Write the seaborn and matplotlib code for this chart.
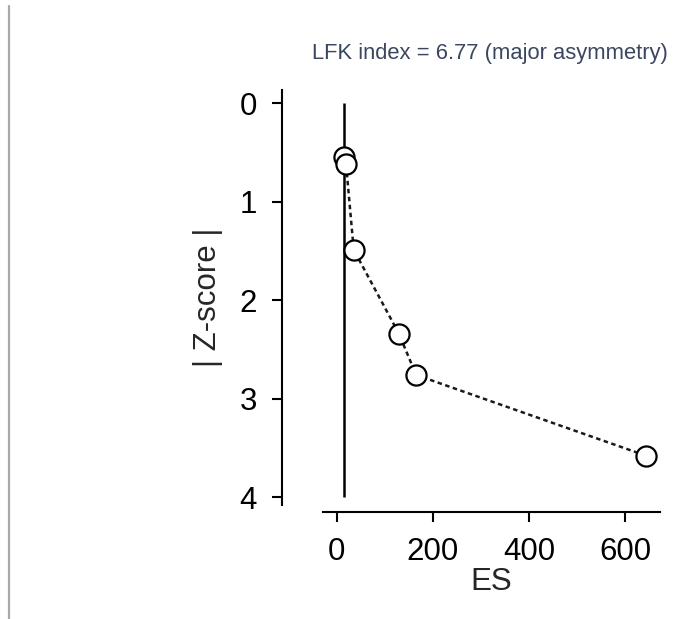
import matplotlib
matplotlib.use("Agg")
import matplotlib.pyplot as plt
import seaborn as sns
import pandas as pd
from matplotlib.lines import Line2D

# Data
es = [15, 19, 35, 129, 165, 644]
zscore = [0.55, 0.62, 1.49, 2.34, 2.76, 3.58]
ref_es = 14
ref_z = [0, 4]
x_ticks = [0, 200, 400, 600]
y_ticks = [0, 1, 2, 3, 4]
title_text = "LFK index = 6.77 (major asymmetry)"

df = pd.DataFrame({"ES": es, "Z": zscore})

sns.set_style("ticks")
plt.rcParams["font.family"] = ["Liberation Sans", "DejaVu Sans"]

W, H = 673, 619
fig = plt.figure(figsize=(W / 100, H / 100), dpi=100)
ax = fig.add_axes([323 / W, 1 - 505 / H, (660 - 323) / W, (505 - 90) / H])

ax.vlines(ref_es, ref_z[0], ref_z[1], color="black", lw=1.8, zorder=2)
sns.lineplot(data=df, x="ES", y="Z", ax=ax, color="#1a1a1a", lw=1.8,
             sort=False, estimator=None, dashes=False, zorder=3)
ax.lines[-1].set_dashes((1.8, 1.4))
sns.scatterplot(data=df, x="ES", y="Z", ax=ax, s=210, facecolor="white",
                edgecolor="black", linewidth=1.6, zorder=4)

ax.set_xlim(-29, 673)
ax.set_ylim(4.08, -0.132)
ax.set_xticks(x_ticks)
ax.set_yticks(y_ticks)

for side in ["top", "right"]:
    ax.spines[side].set_visible(False)
ax.spines["left"].set_position(("outward", 29.5))
ax.spines["bottom"].set_position(("outward", 5))
for side in ["left", "bottom"]:
    ax.spines[side].set_linewidth(1.5)
    ax.spines[side].set_color("black")

ax.tick_params(axis="both", direction="out", length=7, width=1.5,
               colors="black", labelsize=22.5, pad=11)

ax.set_xlabel("ES", fontsize=22.5, labelpad=0)
ax.set_ylabel("| Z-score |", fontsize=22.5)
ax.yaxis.set_label_coords(-0.297, 0.5)

fig.text(668 / W, 1 - 53 / H, title_text, ha="right", va="center",
         fontsize=15.8, color="#3b4660")

fig.add_artist(Line2D([9 / W, 9 / W], [0, 1 - 6 / H], transform=fig.transFigure,
                      color="#a8a8a8", lw=1.6))

fig.savefig("out.png", dpi=100)
